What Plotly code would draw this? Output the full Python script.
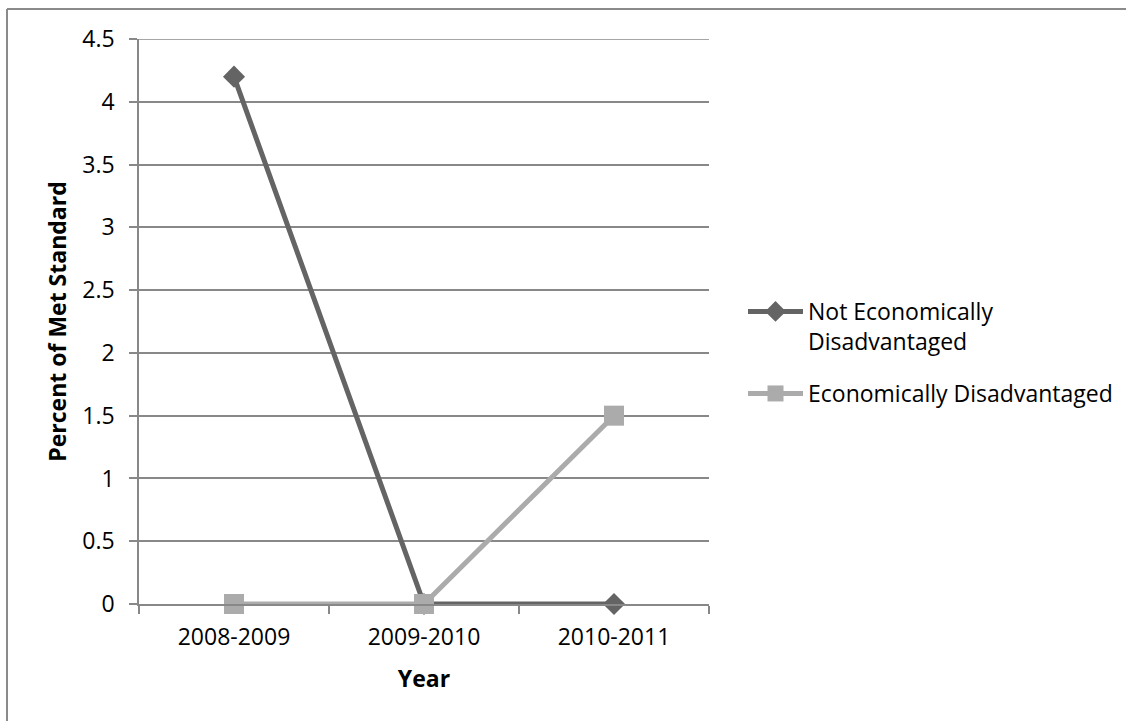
import plotly.graph_objects as go

years = ["2008-2009", "2009-2010", "2010-2011"]
not_econ = [4.2, 0, 0]
econ = [0, 0, 1.5]
y_ticks = [0, 0.5, 1, 1.5, 2, 2.5, 3, 3.5, 4, 4.5]

FONT = "Open Sans"
FS = 23
GRID = "#888888"
DARK = "#646464"
LIGHT = "#ABABAB"

W, H = 1126, 721
L, R, T, B = 139, 709, 39, 604

def px_x(px):
    return (px - L) / (R - L)

def px_y(py):
    return (B - py) / (B - T)

fig = go.Figure()
fig.add_trace(go.Scatter(
    x=years, y=not_econ, name="Not Economically<br>Disadvantaged",
    mode="lines+markers",
    line=dict(color=DARK, width=5),
    marker=dict(symbol="diamond", size=17, color=DARK),
    cliponaxis=False,
    legend="legend", showlegend=True,
))
fig.add_trace(go.Scatter(
    x=years, y=econ, name="Economically Disadvantaged",
    mode="lines+markers",
    line=dict(color=LIGHT, width=5),
    marker=dict(symbol="square", size=20, color=LIGHT),
    cliponaxis=False,
    legend="legend2", showlegend=True,
))

fig.update_layout(
    width=W, height=H,
    showlegend=True,
    margin=dict(l=L, r=W - R, t=T, b=H - B, autoexpand=False),
    paper_bgcolor="white", plot_bgcolor="white",
    font=dict(family=FONT, size=FS, color="black"),
    legend=dict(x=px_x(743), y=px_y(290), xanchor="left", yanchor="top",
                valign="top", itemwidth=55, bgcolor="rgba(0,0,0,0)",
                font=dict(family=FONT, size=FS), visible=True),
    legend2=dict(x=px_x(743), y=px_y(372), xanchor="left", yanchor="top",
                 valign="top", itemwidth=55, bgcolor="rgba(0,0,0,0)",
                 font=dict(family=FONT, size=FS), visible=True),
    xaxis=dict(
        type="category", range=[-0.5, 2.5],
        showline=True, linecolor=GRID, linewidth=1.5,
        ticks="outside", tickson="boundaries", ticklen=8, tickcolor=GRID, tickwidth=1.5,
        showgrid=False,
        ticklabelstandoff=12,
        title=dict(text="<b>Year</b>", font=dict(family=FONT, size=FS), standoff=20),
        automargin=False,
    ),
    yaxis=dict(
        range=[0, 4.5], tickvals=y_ticks,
        showline=True, linecolor=GRID, linewidth=1.5,
        ticks="outside", ticklen=8, tickcolor=GRID, tickwidth=1.5,
        showgrid=True, gridcolor=GRID, gridwidth=1.5,
        zeroline=False,
        ticklabelstandoff=10,
        title=dict(text="<b>Percent of Met Standard</b>", font=dict(family=FONT, size=FS), standoff=9),
        automargin=False,
    ),
    shapes=[
        # top gridline (plotly omits the gridline at the range edge)
        dict(type="line", xref="paper", yref="y",
             x0=0, y0=y_ticks[-1], x1=1, y1=y_ticks[-1],
             line=dict(color=GRID, width=1.5), layer="below"),
        dict(type="line", xref="paper", yref="paper",
             x0=px_x(7), y0=px_y(9), x1=px_x(1140), y1=px_y(9),
             line=dict(color="#8a8a8a", width=2)),
        dict(type="line", xref="paper", yref="paper",
             x0=px_x(7), y0=px_y(9), x1=px_x(7), y1=px_y(740),
             line=dict(color="#8a8a8a", width=2)),
    ],
)

fig.write_html("out.html")
